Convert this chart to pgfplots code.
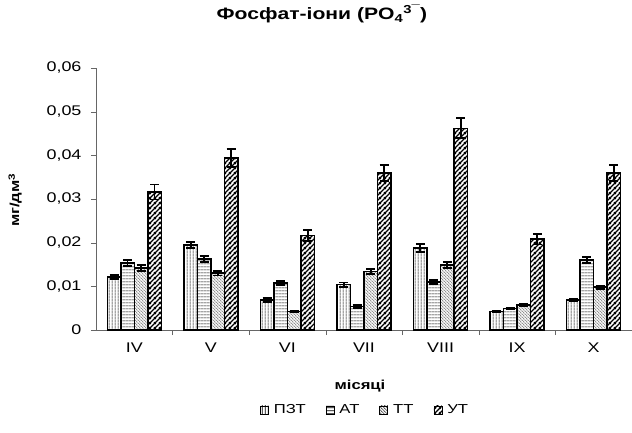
\documentclass[border=0pt]{standalone}
\usepackage{fontspec}
\setmainfont{Liberation Sans}[FakeStretch=1.28]
\usepackage{pgfplots}
\pgfplotsset{compat=1.18}
\usetikzlibrary{patterns.meta}
\tikzdeclarepattern{name=vl, type=uncolored, bottom left={(0pt,0pt)}, top right={(3pt,3pt)}, tile size={(3pt,3pt)},
  code={\draw[line width=0.7pt] (1.5pt,-0.5pt) -- (1.5pt,3.5pt);}}
\tikzdeclarepattern{name=hl, type=uncolored, bottom left={(0pt,0pt)}, top right={(3pt,3pt)}, tile size={(3pt,3pt)},
  code={\draw[line width=0.7pt] (-0.5pt,1.5pt) -- (3.5pt,1.5pt);}}
\tikzdeclarepattern{name=nwl, type=uncolored, bottom left={(0pt,0pt)}, top right={(2.6pt,2.6pt)}, tile size={(2.6pt,2.6pt)},
  code={\draw[line width=0.35pt] (-0.5pt,3.1pt) -- (3.1pt,-0.5pt);
        \draw[line width=0.35pt] (-0.5pt,0.5pt) -- (0.5pt,-0.5pt);
        \draw[line width=0.35pt] (2.1pt,3.1pt) -- (3.1pt,2.1pt);}}
\tikzdeclarepattern{name=nel, type=uncolored, bottom left={(0pt,0pt)}, top right={(5pt,5pt)}, tile size={(5pt,5pt)},
  code={\draw[line width=1.5pt] (-1pt,-1pt) -- (6pt,6pt);
        \draw[line width=1.5pt] (-1pt,4pt) -- (1pt,6pt);
        \draw[line width=1.5pt] (4pt,-1pt) -- (6pt,1pt);}}
\pgfplotstableread{
x p pe a ae t te u ue
0 0.0121 0.0005 0.0153 0.0007 0.0142 0.0006 0.0316 0.0017
1 0.0195 0.0007 0.0163 0.0007 0.0130 0.0005 0.0394 0.0020
2 0.0069 0.0004 0.0108 0.0005 0.0042 0.0002 0.0216 0.0013
3 0.0104 0.0005 0.0054 0.0003 0.0134 0.0006 0.0360 0.0018
4 0.0188 0.0009 0.0110 0.0005 0.0149 0.0007 0.0462 0.0023
5 0.0042 0.0002 0.0049 0.0002 0.0057 0.0003 0.0208 0.0012
6 0.0069 0.0003 0.0160 0.0007 0.0098 0.0004 0.0360 0.0018
}\data
\begin{document}
\begin{tikzpicture}
\begin{axis}[
  scale only axis, width=536pt, height=262pt,
  ybar=0pt, bar width=13.5pt,
  xmin=-0.5, xmax=6.5, ymin=0, ymax=0.06,
  scaled y ticks=false,
  axis lines=left, axis line style={-, black!60},
  xtick={0,...,6}, xticklabels={IV,V,VI,VII,VIII,IX,X},
  minor xtick={0.5,1.5,2.5,3.5,4.5,5.5},
  major x tick style={draw=none},
  minor tick length=5pt,
  tick align=outside, tick style={black!60},
  ytick={0,0.01,0.02,0.03,0.04,0.05,0.06},
  yticklabels={0,{0,01},{0,02},{0,03},{0,04},{0,05},{0,06}},
  major tick length=5pt,
  ticklabel style={font=\fontsize{14}{16}\selectfont},
  xticklabel style={yshift=-4pt},
  yticklabel style={xshift=-6pt},
  title={\textbf{Фосфат-іони (PO\textsubscript{4}\textsuperscript{3¯})}},
  title style={at={(0.4216,1.183)}, anchor=center, font=\fontsize{16.5}{19}\selectfont},
  xlabel={\textbf{місяці}},
  xlabel style={at={(0.4925,-0.215)}, anchor=center, font=\fontsize{13}{16}\selectfont},
  ylabel={\textbf{мг/дм\textsuperscript{3}}},
  ylabel style={at={(-0.151,0.496)}, anchor=center, rotate=0, font=\fontsize{13}{16}\selectfont},
  legend style={at={(0.502,-0.305)}, anchor=center, draw=none, legend columns=4,
    font=\fontsize{13}{15}\selectfont,
    /tikz/every odd column/.append style={column sep=3pt},
    /tikz/every even column/.append style={column sep=18pt}},
  legend image code/.code={\draw[#1, line width=0.8pt] (0pt,-4pt) rectangle (8pt,4pt);},
  error bars/y dir=both, error bars/y explicit,
  error bars/error bar style={line width=1.8pt, black},
  error bars/error mark options={line width=1.8pt, black, mark size=4.5pt, rotate=90},
  every axis plot/.append style={draw=black, line width=1.5pt},
]
\addplot[pattern=vl] table[x=x, y=p, y error=pe] {\data};
\addplot[pattern=hl] table[x=x, y=a, y error=ae] {\data};
\addplot[pattern=nwl] table[x=x, y=t, y error=te] {\data};
\addplot[pattern=nel] table[x=x, y=u, y error=ue] {\data};
\legend{ПЗТ,АТ,ТТ,УТ}
\end{axis}
\pgfresetboundingbox
\path[use as bounding box] (-96pt,-102pt) rectangle (536pt,330pt);
\end{tikzpicture}
\end{document}
